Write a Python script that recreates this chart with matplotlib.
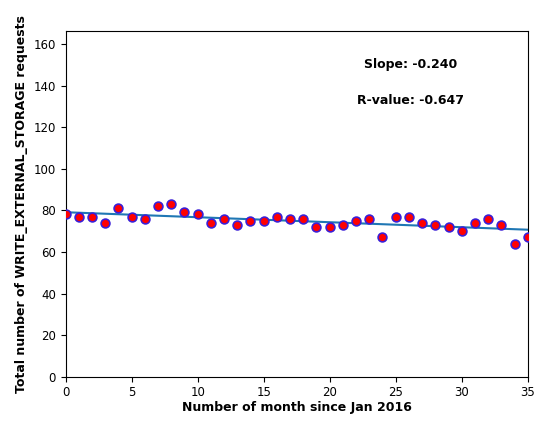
import numpy as np
import matplotlib
matplotlib.use("Agg")
import matplotlib.pyplot as plt

# monthly totals of WRITE_EXTERNAL_STORAGE requests, month 0 = Jan 2016
months = list(range(36))
requests = [78, 77, 77, 74, 81, 77, 76, 82, 83, 79,
            78, 74, 76, 73, 75, 75, 77, 76, 76, 72,
            72, 73, 75, 76, 67, 77, 77, 74, 73, 72,
            70, 74, 76, 73, 64, 67]

SLOPE = -0.240
R_VALUE = -0.647

x = np.array(months)
y = np.array(requests)
intercept = y.mean() - SLOPE * x.mean()

fig = plt.figure(figsize=(5.37, 4.21), dpi=100)
ax = fig.add_axes([0.1223, 0.1052, 0.8604, 0.82])

ax.scatter(x, y, s=40, c="red", edgecolors="#3b1fd6", linewidths=1.2, zorder=3)
ax.plot(x, intercept + SLOPE * x, color="#1f77b4", linewidth=1.5, zorder=2)

ax.set_xlim(0, 35)
ax.set_ylim(0, 2 * y.max())
ax.tick_params(labelsize=8.5)
ax.set_xlabel("Number of month since Jan 2016", fontsize=9, fontweight="bold", labelpad=1)
ax.set_ylabel("Total number of WRITE_EXTERNAL_STORAGE requests", fontsize=9,
              fontweight="bold", labelpad=4)

ax.text(26.1, 150, f"Slope: {SLOPE:.3f}", ha="center", va="center",
        fontsize=9, fontweight="bold")
ax.text(26.1, 133, f"R-value: {R_VALUE:.3f}", ha="center", va="center",
        fontsize=9, fontweight="bold")

fig.savefig("out.png", dpi=100)
